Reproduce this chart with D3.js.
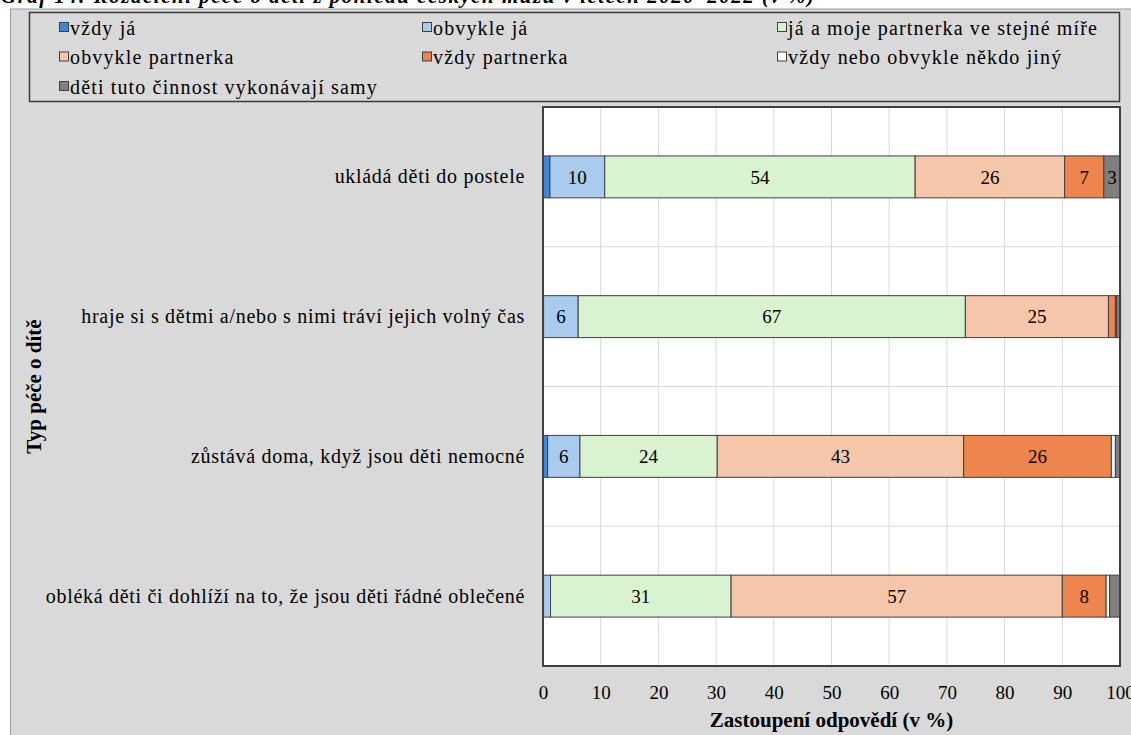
<!DOCTYPE html>
<html><head><meta charset="utf-8">
<script src="https://cdn.jsdelivr.net/npm/d3@7"></script>
<style>body{margin:0;background:#fff}svg{display:block}text{font-family:"Liberation Serif","Times New Roman",serif}</style>
</head><body>
<svg id="c" width="1131" height="735"></svg>
<script>
const categories = [
  "ukládá děti do postele",
  "hraje si s dětmi a/nebo s nimi tráví jejich volný čas",
  "zůstává doma, když jsou děti nemocné",
  "obléká děti či dohlíží na to, že jsou děti řádné oblečené"
];
const seriesNames = ["vždy já","obvykle já","já a moje partnerka ve stejné míře","obvykle partnerka","vždy partnerka","vždy nebo obvykle někdo jiný","děti tuto činnost vykonávají samy"];
const seriesColors = ["#3f87d6","#a9cbee","#d9f2d0","#f6c6ab","#ee854e","#ffffff","#7f7f7f"];
const vzdyJa        = [1.2, 0.1, 0.8, 0.1];
const obvykleJa     = [9.5, 6.0, 5.6, 1.2];
const spolecne      = [53.8, 67.1, 23.8, 31.3];
const obvyklePartn  = [25.9, 24.8, 42.7, 57.4];
const vzdyPartn     = [6.8, 1.2, 25.6, 7.6];
const nekdoJiny     = [0.0, 0.2, 0.7, 0.6];
const detiSamy      = [2.8, 0.7, 0.8, 1.8];
const xTicks = [0,10,20,30,40,50,60,70,80,90,100];
const title = "Graf 14: Rozdělení péče o děti z pohledu českých mužů v letech 2020–2022 (v %)";
const xTitle = "Zastoupení odpovědí (v %)";
const yTitle = "Typ péče o dítě";

const seriesVals = [vzdyJa, obvykleJa, spolecne, obvyklePartn, vzdyPartn, nekdoJiny, detiSamy];
const rows = categories.map((c,i)=>{const o={cat:c}; seriesNames.forEach((s,j)=>o[s]=seriesVals[j][i]); return o;});
const stack = d3.stack().keys(seriesNames)(rows);

const svg = d3.select("#c");
const L=543, R=1120, T=107, B=666;
const x = d3.scaleLinear().domain([0,100]).range([L,R]);
const y = d3.scaleBand().domain(categories).range([T,B]).paddingInner(0.7).paddingOuter(0.35);

// outer area
svg.append("rect").attr("x",10.5).attr("y",9).attr("width",1140).attr("height",740).attr("fill","#d9d9d9").attr("stroke","#9a9a9a").attr("stroke-width",1);
// title (clipped at top)
svg.append("text").attr("x",1).attr("y",3).attr("font-size",21).attr("font-weight","bold").attr("font-style","italic").attr("letter-spacing",1.5).attr("fill","#000").text(title);

// legend
svg.append("rect").attr("x",29.5).attr("y",12.5).attr("width",1090).attr("height",89).attr("fill","#d9d9d9").attr("stroke","#3a3a3a").attr("stroke-width",1.5);
const legCols=[59,422,777], legRows=[28,57.5,87];
seriesNames.forEach((s,i)=>{
  const g=svg.append("g").attr("transform",`translate(${legCols[i%3]},${legRows[Math.floor(i/3)]})`);
  g.append("rect").attr("x",0.5).attr("y",-5.5).attr("width",9).attr("height",9).attr("fill",seriesColors[i]).attr("stroke","#404040").attr("stroke-width",1);
  g.append("text").attr("x",11).attr("y",0).attr("dy","0.33em").attr("font-size",20).attr("letter-spacing",1.15).attr("fill","#000").text(s);
});

// plot area
svg.append("rect").attr("x",L).attr("y",T).attr("width",R-L).attr("height",B-T).attr("fill","#fff");
svg.append("g").selectAll("line").data(xTicks.slice(1,-1)).join("line")
  .attr("x1",d=>x(d)).attr("x2",d=>x(d)).attr("y1",T).attr("y2",B).attr("stroke","#d9d9d9").attr("stroke-width",1);
const step=y.step();
svg.append("g").selectAll("line").data(d3.range(1,categories.length)).join("line")
  .attr("x1",L).attr("x2",R).attr("y1",d=>T+d*step).attr("y2",d=>T+d*step).attr("stroke","#d9d9d9").attr("stroke-width",1);

// bars
stack.forEach((layer,i)=>{
  const g=svg.append("g");
  g.selectAll("rect").data(layer).join("rect")
    .attr("x",d=>x(d[0])).attr("width",d=>Math.max(0,x(d[1])-x(d[0])))
    .attr("y",d=>y(d.data.cat)).attr("height",y.bandwidth())
    .attr("fill",seriesColors[i]).attr("stroke","#404040").attr("stroke-width",1)
    .attr("display",d=>(d[1]-d[0])>0?null:"none");
  g.selectAll("text").data(layer.filter(d=>(d[1]-d[0])>=2.5)).join("text")
    .attr("x",d=>(x(d[0])+x(d[1]))/2).attr("y",d=>y(d.data.cat)+y.bandwidth()/2).attr("dy","0.35em")
    .attr("text-anchor","middle").attr("font-size",19).attr("fill","#000")
    .text(d=>Math.round(d[1]-d[0]));
});
svg.append("rect").attr("x",L).attr("y",T).attr("width",R-L).attr("height",B-T).attr("fill","none").attr("stroke","#404040").attr("stroke-width",2);

// axes
const xa=svg.append("g").attr("transform",`translate(0,${B})`).call(d3.axisBottom(x).tickValues(xTicks).tickSize(0).tickPadding(20));
xa.select(".domain").remove();
xa.selectAll("text").attr("font-size",19).attr("fill","#000").attr("font-family","Liberation Serif");
const ya=svg.append("g").attr("transform",`translate(${L},0)`).call(d3.axisLeft(y).tickSize(0).tickPadding(18));
ya.select(".domain").remove();
ya.selectAll("text").attr("font-size",20).attr("letter-spacing",0.7).attr("fill","#000").attr("font-family","Liberation Serif");

svg.append("text").attr("x",(L+R)/2).attr("y",727).attr("text-anchor","middle").attr("font-size",21).attr("font-weight","bold").text(xTitle);
svg.append("text").attr("transform",`translate(41,${(T+B)/2}) rotate(-90)`).attr("text-anchor","middle").attr("font-size",21).attr("font-weight","bold").text(yTitle);
</script>
</body></html>
